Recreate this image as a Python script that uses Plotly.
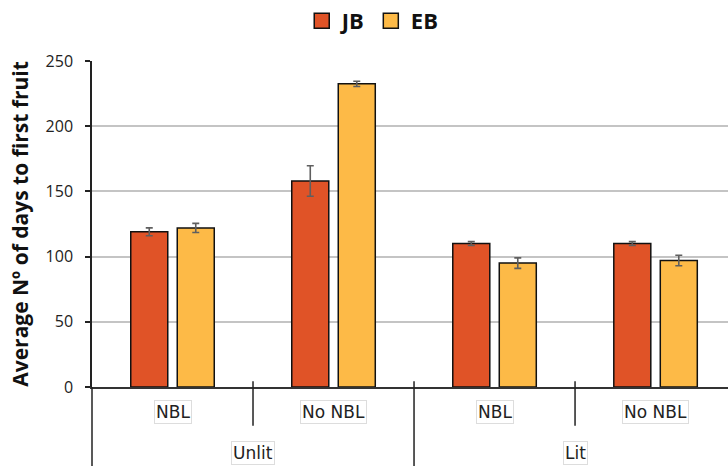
import plotly.graph_objects as go

# Groups: light regime (outer) and NBL treatment (inner)
light = ["Unlit", "Unlit", "Lit", "Lit"]
treatment = ["NBL", "No NBL", "NBL", "No NBL"]

# Average number of days to first fruit, with error bar half-widths
jb_days = [119, 158, 110, 110]
jb_err = [3, 11.7, 1.5, 1.5]
eb_days = [122, 232.5, 95, 97]
eb_err = [3.5, 2, 4, 4]

y_ticks = [0, 50, 100, 150, 200, 250]

JB_COLOR = "#E05327"
EB_COLOR = "#FDBA47"
LABEL_FONT = "DejaVu Sans"
BOLD_FONT = "Open Sans"

xpos = list(range(len(treatment)))

fig = go.Figure()

for name, vals, errs, color in [
    ("JB", jb_days, jb_err, JB_COLOR),
    ("EB", eb_days, eb_err, EB_COLOR),
]:
    fig.add_trace(go.Bar(
        x=xpos, y=vals, name=name, showlegend=False,
        marker=dict(color=color, line=dict(color="#111111", width=1.5)),
        error_y=dict(type="data", array=errs, visible=True,
                     color="#5f5f5f", thickness=1.6, width=3.5),
    ))
    # legend swatch
    fig.add_trace(go.Scatter(
        x=[None], y=[None], mode="markers", name=name,
        marker=dict(symbol="square", size=15, color=color,
                    line=dict(color="#111111", width=1.5)),
    ))

# Inner category labels
for xi, lab in zip(xpos, treatment):
    fig.add_annotation(
        x=xi, xref="x", y=-0.077, yref="paper", yanchor="middle",
        text=lab, showarrow=False,
        font=dict(family=LABEL_FONT, size=17, color="#222222"),
        bordercolor="#dddddd", borderwidth=1, borderpad=1,
    )

# Outer category labels (centred on each pair of groups)
outer = []
for i, lab in enumerate(light):
    if not outer or outer[-1][0] != lab:
        outer.append([lab, i, i])
    else:
        outer[-1][2] = i
for lab, i0, i1 in outer:
    fig.add_annotation(
        x=(xpos[i0] + xpos[i1]) / 2, xref="x", y=-0.203, yref="paper",
        yanchor="middle", text=lab, showarrow=False,
        font=dict(family=LABEL_FONT, size=17, color="#222222"),
        bordercolor="#dddddd", borderwidth=1, borderpad=1,
    )

# Divider lines between categories
line_style = dict(color="#222222", width=1.5)
for k in range(len(xpos) - 1):
    boundary = (xpos[k] + xpos[k + 1]) / 2
    long_div = light[k] != light[k + 1]
    fig.add_shape(
        type="line", xref="x", yref="paper",
        x0=boundary, x1=boundary, y0=0.018,
        y1=-0.3 if long_div else -0.119,
        line=line_style,
    )
# extend the y axis line down through the label rows
fig.add_shape(type="line", xref="paper", yref="paper", x0=0, x1=0,
              y0=0, y1=-0.3, line=line_style)

fig.update_layout(
    width=728, height=466,
    margin=dict(l=92, r=0, t=61, b=79),
    paper_bgcolor="white", plot_bgcolor="white",
    barmode="group", bargap=0.4224, bargroupgap=0.204,
    legend=dict(
        orientation="h", xref="container", yref="container",
        x=0.512, xanchor="center", y=1.0, yanchor="top",
        font=dict(family=BOLD_FONT, size=22, color="#111111", weight="bold"),
        itemwidth=30,
    ),
    xaxis=dict(
        range=[-0.5, 3.45], showticklabels=False, showgrid=False,
        zeroline=False, showline=True, linecolor="#333333", linewidth=1.5,
        ticks="",
    ),
    yaxis=dict(
        range=[0, 250], tickvals=y_ticks, showgrid=True,
        gridcolor="#c4c4c4", gridwidth=1.5, zeroline=False,
        showline=True, linecolor="#222222", linewidth=1.5,
        ticks="outside", ticklen=5, tickcolor="#222222", tickwidth=1.5,
        ticklabelstandoff=9,
        tickfont=dict(family="Open Sans", size=16, color="#222222"),
        title=dict(text="Average Nº of days to first fruit",
                   font=dict(family=BOLD_FONT, size=21, color="#111111",
                             weight="bold"),
                   standoff=11),
    ),
)

fig.write_html("out.html")
